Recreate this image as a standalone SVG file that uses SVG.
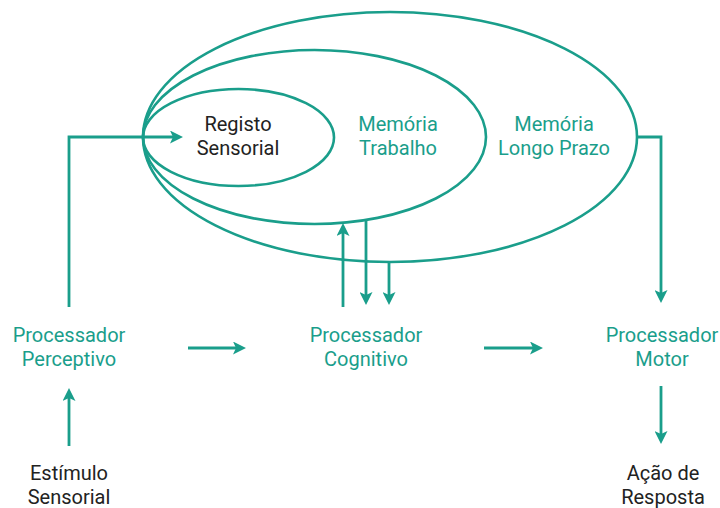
<svg xmlns="http://www.w3.org/2000/svg" width="720" height="508" viewBox="0 0 720 508">
<style>
.sh{fill:none;stroke:#1a9e8b;stroke-width:2.6}
.c{fill:none;stroke:#1a9e8b;stroke-width:2.8;marker-end:url(#ah)}
text{font-family:Roboto,"Liberation Sans",sans-serif;font-size:20px;text-anchor:middle}
.t{fill:#1a9e8b}
.k{fill:#222}
</style>
<defs>
<marker id="ah" viewBox="0 0 13 13" refX="3" refY="6.5" markerWidth="13" markerHeight="13" markerUnits="userSpaceOnUse" orient="auto">
<path d="M0,0 L13,6.5 L0,13 L3,6.5 Z" fill="#1a9e8b"/>
</marker>
</defs>
<g id="memoria-longo-prazo">
<ellipse class="sh" cx="390" cy="137" rx="247" ry="125"/>
<text class="t" x="554" y="131">Memória</text>
<text class="t" x="554" y="155">Longo Prazo</text>
</g>
<g id="memoria-trabalho">
<ellipse class="sh" cx="314.5" cy="137" rx="171.5" ry="87"/>
<text class="t" x="398" y="131">Memória</text>
<text class="t" x="398" y="155">Trabalho</text>
</g>
<g id="registo-sensorial">
<ellipse class="sh" cx="238.5" cy="137.5" rx="95.5" ry="48.5"/>
<text class="k" x="238" y="131">Registo</text>
<text class="k" x="238" y="155">Sensorial</text>
</g>
<g id="processador-perceptivo">
<text class="t" x="69" y="342">Processador</text>
<text class="t" x="69" y="366">Perceptivo</text>
</g>
<g id="processador-cognitivo">
<text class="t" x="366" y="342">Processador</text>
<text class="t" x="366" y="366">Cognitivo</text>
</g>
<g id="processador-motor">
<text class="t" x="662" y="342">Processador</text>
<text class="t" x="662" y="366">Motor</text>
</g>
<g id="estimulo-sensorial">
<text class="k" x="69" y="480">Estímulo</text>
<text class="k" x="69" y="504">Sensorial</text>
</g>
<g id="acao-resposta">
<text class="k" x="663" y="480">Ação de</text>
<text class="k" x="663" y="504">Resposta</text>
</g>
<g id="connectors">
<path class="c" d="M69,307 V137 H173"/>
<path class="c" d="M636,137 H661 V293"/>
<path class="c" d="M343,307 V233"/>
<path class="c" d="M366,220 V295"/>
<path class="c" d="M389,262 V295"/>
<path class="c" d="M188,348 H236"/>
<path class="c" d="M484,348 H533"/>
<path class="c" d="M69,446 V398"/>
<path class="c" d="M661,386 V434"/>
</g>
</svg>
